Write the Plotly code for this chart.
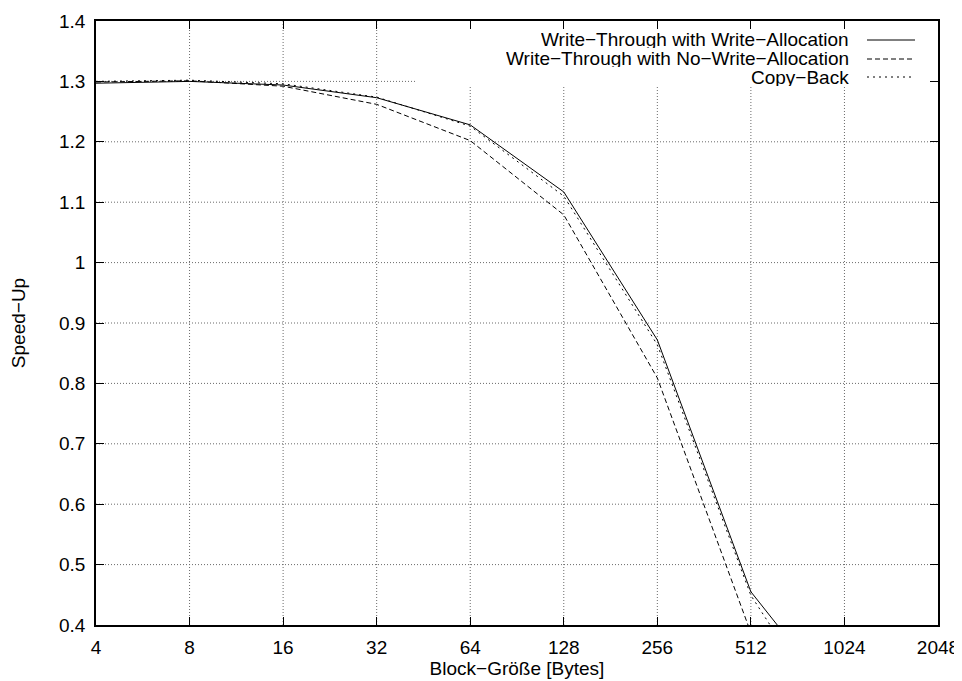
import math
import plotly.graph_objects as go

block_sizes = [4, 8, 16, 32, 64, 128, 256, 512, 1024]
wt_write_alloc = [1.297, 1.300, 1.294, 1.273, 1.228, 1.117, 0.872, 0.455, 0.26]
wt_no_write_alloc = [1.299, 1.301, 1.292, 1.262, 1.202, 1.079, 0.809, 0.387, 0.18]
copy_back = [1.300, 1.302, 1.296, 1.274, 1.226, 1.110, 0.864, 0.449, 0.21]

series_names = ["Write\u2212Through with Write\u2212Allocation",
                "Write\u2212Through with No\u2212Write\u2212Allocation",
                "Copy\u2212Back"]
series_dash = ["solid", "5px,3px", "2px,4px"]

x_tick_vals = [4, 8, 16, 32, 64, 128, 256, 512, 1024, 2048]
y_tick_vals = [0.4, 0.5, 0.6, 0.7, 0.8, 0.9, 1.0, 1.1, 1.2, 1.3, 1.4]
y_tick_text = ["0.4", "0.5", "0.6", "0.7", "0.8", "0.9", "1", "1.1", "1.2", "1.3", "1.4"]

X_MIN, X_MAX = 4, 2048
Y_MIN, Y_MAX = 0.4, 1.4

FONT = "Liberation Sans, Arial, Helvetica, sans-serif"
FS = 19

fig = go.Figure()
for name, vals, dash in zip(series_names, [wt_write_alloc, wt_no_write_alloc, copy_back], series_dash):
    fig.add_trace(go.Scatter(x=block_sizes, y=vals, mode="lines", name=name,
                             line=dict(color="black", width=1, dash=dash),
                             showlegend=False, cliponaxis=True))

# figure is placed at an 8px page offset
W, H = 954, 673
L, R, T, B = 88, 24, 13, 56
PX0, PX1, PY0, PY1 = 96, 938, 21, 625   # plot area in screen pixels

def px_x(px):
    return (px - PX0) / (PX1 - PX0)

def px_y(py):
    return (PY1 - py) / (PY1 - PY0)

def dom_x(v):
    return (math.log2(v) - math.log2(X_MIN)) / (math.log2(X_MAX) - math.log2(X_MIN))

def dom_y(v):
    return (v - Y_MIN) / (Y_MAX - Y_MIN)

# dotted grid (gnuplot style: interrupted by the key box)
KEY_LEFT = px_x(417)
KEY_BOTTOM = px_y(87)
GRID = dict(color="#6a6a6a", width=1, dash="1px,2px")
for v in x_tick_vals[1:-1]:
    fx = dom_x(v)
    top = KEY_BOTTOM if fx >= KEY_LEFT else 1
    fig.add_shape(type="line", xref="x domain", yref="y domain",
                  x0=fx, x1=fx, y0=0, y1=top, line=GRID, layer="below")
for v in y_tick_vals[1:-1]:
    fy = dom_y(v)
    right = KEY_LEFT if fy >= KEY_BOTTOM else 1
    fig.add_shape(type="line", xref="x domain", yref="y domain",
                  x0=0, x1=right, y0=fy, y1=fy, line=GRID, layer="below")

key_y = [40, 59, 77]
for name, dash, ky in zip(series_names, series_dash, key_y):
    fig.add_annotation(xref="paper", yref="paper", x=px_x(851), y=px_y(ky),
                       text=name, showarrow=False, xanchor="right", yanchor="middle",
                       height=17,
                       font=dict(family=FONT, size=FS, color="black"))
    fig.add_shape(type="line", xref="paper", yref="paper",
                  x0=px_x(867), x1=px_x(915), y0=px_y(ky), y1=px_y(ky),
                  line=dict(color="black", width=1, dash=dash), layer="above")

axis_common = dict(showline=True, linecolor="black", linewidth=1.5, mirror="ticks",
                   ticks="inside", ticklen=8, tickcolor="black", tickwidth=1,
                   showgrid=False, zeroline=False,
                   tickfont=dict(family=FONT, size=FS, color="black"))

fig.update_xaxes(type="log", range=[math.log10(X_MIN), math.log10(X_MAX)],
                 tickmode="array", tickvals=x_tick_vals,
                 ticktext=[str(v) for v in x_tick_vals],
                 title=dict(text="Block\u2212Größe [Bytes]", standoff=2,
                            font=dict(family=FONT, size=FS, color="black")),
                 ticklabelstandoff=4, ticklabeloverflow="allow",
                 **axis_common)
fig.update_yaxes(range=[Y_MIN, Y_MAX], tickmode="array", tickvals=y_tick_vals,
                 ticktext=y_tick_text,
                 title=dict(text="Speed\u2212Up", standoff=29,
                            font=dict(family=FONT, size=FS, color="black")),
                 ticklabelstandoff=5,
                 **axis_common)

fig.update_layout(width=W, height=H, margin=dict(l=L, r=R, t=T, b=B, autoexpand=False),
                  paper_bgcolor="white", plot_bgcolor="white",
                  font=dict(family=FONT, size=FS, color="black"))

fig.write_html("out.html")
